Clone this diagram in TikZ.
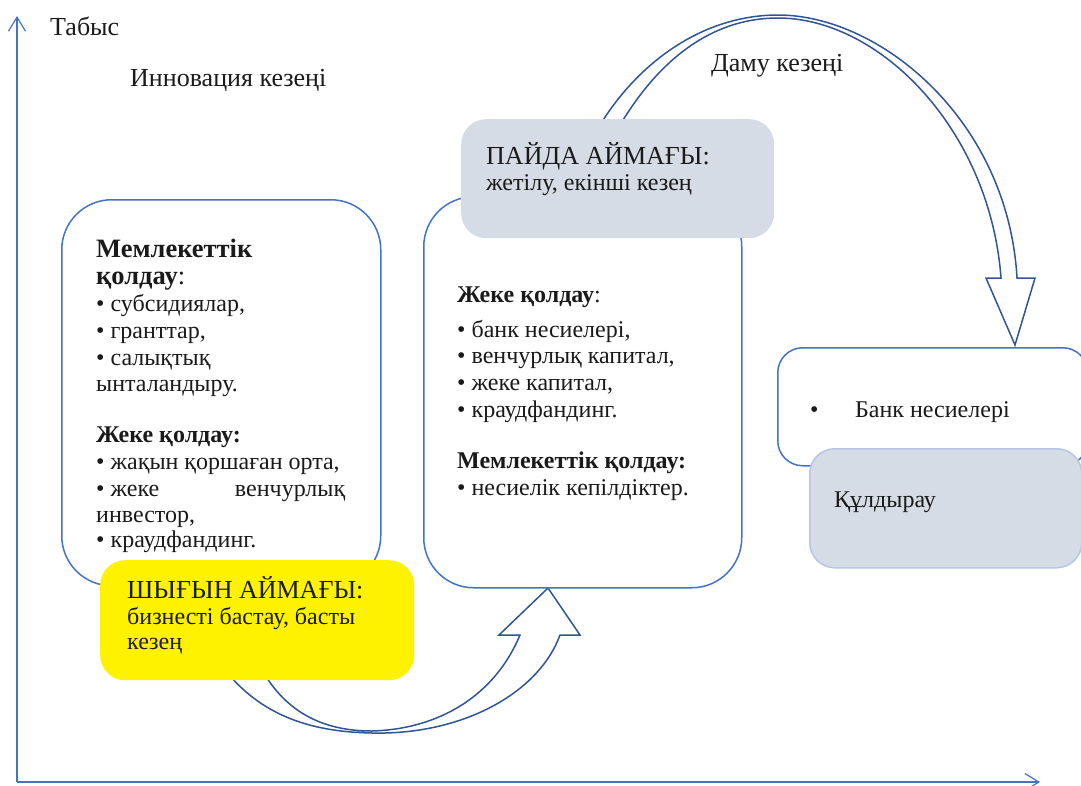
\documentclass[tikz,border=0pt]{standalone}
\usepackage{fontspec}
\setmainfont{Liberation Serif}
\usetikzlibrary{arrows.meta}
\definecolor{bord}{HTML}{4472C4}
\definecolor{arr}{HTML}{2F5597}
\definecolor{grayfill}{HTML}{D6DCE5}
\definecolor{lightbord}{HTML}{B4C7E7}
\definecolor{ink}{HTML}{1A1A1A}
\begin{document}
\begin{tikzpicture}[x=1pt,y=-1pt,
  box/.style={draw=bord, line width=1.5pt, fill=white, rounded corners=50pt, anchor=north west, inner sep=0},
  sbox/.style={draw=bord, line width=1.5pt, fill=white, rounded corners=25pt, anchor=north west, inner sep=0},
  gbox/.style={fill=grayfill, rounded corners=25pt, anchor=north west, inner sep=0},
  ybox/.style={fill=yellow, rounded corners=25pt, anchor=north west, inner sep=0},
  bigarrow/.style={draw=arr, line width=1.5pt, fill=white, line join=miter},
  axis/.style={draw=bord, line width=1.2pt, -{Straight Barb[length=14pt,width=17pt]}},
  lbl/.style={anchor=base west, inner sep=0, text=ink, font=\fontsize{26}{30}\selectfont},
  hd/.style={anchor=base west, inner sep=0, text=ink, font=\fontsize{26}{30}\selectfont},
  bt/.style={anchor=base west, inner sep=0, text=ink, font=\fontsize{24}{28}\selectfont},
  bth/.style={anchor=base west, inner sep=0, text=ink, font=\fontsize{26.5}{30}\selectfont}
]
\useasboundingbox (0,0) rectangle (1081,785);

% axes
\coordinate (o) at (17,782);
\coordinate (ytop) at (17,16);
\coordinate (xend) at (1040,782);
\draw[axis] (o) -- (ytop);
\draw[axis] (o) -- (xend);

% labels
\node[lbl] (tabys) at (50,35) {Табыс};
\node[lbl] (innov) at (130,86) {Инновация кезеңі};
\node[lbl] (damu) at (711,71) {Даму кезеңі};

% top curved arrow
\draw[bigarrow] (600,125) .. controls (640,60) and (705,15) .. (778,15)
  .. controls (880,15) and (1008,120) .. (1017,278) -- (1035,278) -- (1015,345)
  -- (986,278) -- (1001,278) .. controls (990,130) and (880,18) .. (778,18)
  .. controls (720,18) and (665,50) .. (620,125) -- cycle;

% bottom curved arrow
\draw[bigarrow] (225,670) .. controls (265,720) and (320,734) .. (385,733)
  .. controls (470,731) and (540,690) .. (560,635) -- (580,635) -- (548,588)
  -- (499,635) -- (520,635) .. controls (495,695) and (440,729) .. (372,731)
  .. controls (320,731) and (285,710) .. (262,670) -- cycle;

% boxes
\node[box, minimum width=319pt, minimum height=386pt] (lbox) at (61,199) {};
\node[box, minimum width=318pt, minimum height=391pt] (mbox) at (423,196) {};
\node[ybox, minimum width=314pt, minimum height=120pt] (ybx) at (100,560) {};
\node[gbox, minimum width=313pt, minimum height=119pt] (pbox) at (461,119) {};
\node[sbox, minimum width=310pt, minimum height=118pt] (rbox) at (777,347) {};
\node[gbox, draw=lightbord, line width=1.5pt, minimum width=272pt, minimum height=119pt] (kbox) at (809,448) {};

% left box text
\node[bth] (l1) at (96,257) {\bfseries Мемлекеттік};
\node[bth] (l2) at (96,284) {{\bfseries қолдау}:};
\node[bt] (l3) at (96,311) {• субсидиялар,};
\node[bt] (l4) at (96,338) {• гранттар,};
\node[bt] (l5) at (96,365) {• салықтық};
\node[bt] (l6) at (96,391) {ынталандыру.};
\node[bt] (l7) at (96,442) {\bfseries Жеке қолдау:};
\node[bt] (l8) at (96,469) {• жақын қоршаған орта,};
\node[bt] (l9) at (96,496) {\makebox[249pt][l]{• жеке\hfill венчурлық}};
\node[bt] (l10) at (96,522) {инвестор,};
\node[bt] (l11) at (96,547) {• краудфандинг.};

% middle box text
\node[bt] (m1) at (457,302) {{\bfseries Жеке қолдау}:};
\node[bt] (m2) at (457,337) {• банк несиелері,};
\node[bt] (m3) at (457,363) {• венчурлық капитал,};
\node[bt] (m4) at (457,390) {• жеке капитал,};
\node[bt] (m5) at (457,417) {• краудфандинг.};
\node[bt] (m6) at (457,468) {\bfseries Мемлекеттік қолдау:};
\node[bt] (m7) at (457,495) {• несиелік кепілдіктер.};

% Пайда box text
\node[hd] (p1) at (486,164) {ПАЙДА АЙМАҒЫ:};
\node[bt] (p2) at (486,190) {жетілу, екінші кезең};

% yellow box text
\node[hd] (y1) at (127,598) {ШЫҒЫН АЙМАҒЫ:};
\node[bt] (y2) at (127,624) {бизнесті бастау, басты};
\node[bt] (y3) at (127,649) {кезең};

% right boxes text
\node[bt] (r0) at (810,417) {•};
\node[bt] (r1) at (855,417) {Банк несиелері};
\node[bt] (k1) at (834,507) {Құлдырау};
\end{tikzpicture}
\end{document}
